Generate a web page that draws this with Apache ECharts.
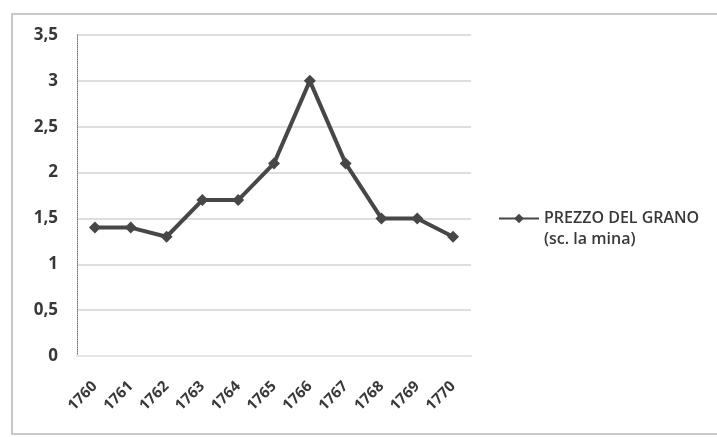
<!DOCTYPE html>
<html><head><meta charset="utf-8">
<script src="https://cdn.jsdelivr.net/npm/echarts@6/dist/echarts.min.js"></script>
<style>html,body{margin:0;padding:0;background:#fff}#c{width:717px;height:437px}</style>
</head><body><div id="c"></div>
<script>
const years = ['1760','1761','1762','1763','1764','1765','1766','1767','1768','1769','1770'];
const prezzo = [1.4, 1.4, 1.3, 1.7, 1.7, 2.1, 3.0, 2.1, 1.5, 1.5, 1.3];
const seriesName = 'PREZZO DEL GRANO\n(sc. la mina)';
const yTicks = {min: 0, max: 3.5, interval: 0.5};

const chart = echarts.init(document.getElementById('c'));
chart.setOption({
  backgroundColor: '#fff',
  animation: false,
  textStyle: {fontFamily: 'Open Sans'},
  graphic: [{
    type: 'rect', shape: {x: 12, y: 14, width: 730, height: 420},
    style: {fill: 'none', stroke: '#c8c8c8', lineWidth: 2}, silent: true
  }],
  grid: {left: 77, top: 35, width: 394, height: 321},
  xAxis: {
    type: 'category', data: years, boundaryGap: true,
    axisLine: {show: true, lineStyle: {color: '#e6e6e6', width: 2}},
    axisTick: {show: false},
    axisLabel: {rotate: 45, color: '#383838', fontSize: 15, fontWeight: 'bold', margin: 28, fontFamily: 'Open Sans'}
  },
  yAxis: {
    type: 'value', min: yTicks.min, max: yTicks.max, interval: yTicks.interval,
    axisLine: {show: true, lineStyle: {color: '#777', type: 'dotted', width: 1}},
    axisTick: {show: false},
    axisLabel: {color: '#383838', fontSize: 17, fontWeight: 'bold', margin: 19,
      formatter: v => String(v).replace('.', ','), fontFamily: 'Open Sans'},
    splitLine: {lineStyle: {color: '#dedede', width: 2}}
  },
  legend: {
    left: 493, top: 182, orient: 'vertical',
    itemWidth: 40, itemHeight: 12, itemGap: 0,
    formatter: name => '\n' + name,
    textStyle: {color: '#383838', fontSize: 16, fontWeight: 600, fontFamily: 'Open Sans',
      lineHeight: 21},
    data: [{name: seriesName}]
  },
  series: [{
    name: seriesName, type: 'line', data: prezzo,
    symbol: 'diamond', symbolSize: 12,
    lineStyle: {color: '#474747', width: 4},
    itemStyle: {color: '#474747'}
  }]
});
</script></body></html>
